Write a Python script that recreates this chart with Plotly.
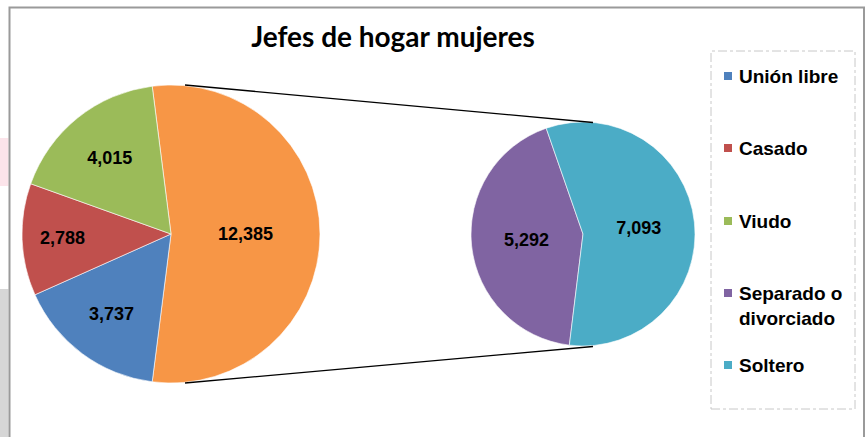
import plotly.graph_objects as go

# ---- data ----
categories = ["Unión libre", "Casado", "Viudo", "Separado o divorciado", "Soltero"]
values = [3737, 2788, 4015, 5292, 7093]
colors = ["#4F81BD", "#C0504D", "#9BBB59", "#8064A2", "#4BACC6"]
other_color = "#F79646"
title_text = "Jefes de hogar mujeres"
legend_labels = ["Unión libre", "Casado", "Viudo", "Separado o<br>divorciado", "Soltero"]

W, H = 868, 437
def px(x): return x / W
def py(y): return 1 - y / H

main_vals = values[:3]
sec_vals = values[3:]
other_total = sum(sec_vals)
total = sum(main_vals) + other_total

label_font = dict(family="Arial, Liberation Sans, sans-serif", size=18, color="black", weight="bold")

fig = go.Figure()

# primary pie: "other" slice first, centred at 3 o'clock
fig.add_trace(go.Pie(
    labels=["Otros"] + categories[:3],
    values=[other_total] + main_vals,
    marker=dict(colors=[other_color] + colors[:3], line=dict(color="white", width=0.6)),
    sort=False, direction="clockwise",
    rotation=90 - 180 * other_total / total,
    texttemplate="%{value:,}", textposition="inside",
    insidetextorientation="horizontal", textfont=label_font,
    domain=dict(x=[px(22), px(320)], y=[py(383), py(85)]),
    showlegend=False, hoverinfo="label+value",
))

# secondary pie
fig.add_trace(go.Pie(
    labels=categories[3:],
    values=sec_vals,
    marker=dict(colors=colors[3:], line=dict(color="white", width=0.6)),
    sort=False, direction="clockwise",
    rotation=187,
    texttemplate="%{value:,}", textposition="inside",
    insidetextorientation="horizontal", textfont=label_font,
    domain=dict(x=[px(471), px(695)], y=[py(346), py(122)]),
    showlegend=False, hoverinfo="label+value",
))

shapes = []
# spreadsheet background outside frame
shapes.append(dict(type="rect", xref="paper", yref="paper", x0=0, x1=px(8.5), y0=py(186), y1=py(138),
                   fillcolor="#FCE4EA", line=dict(width=0), layer="below"))
shapes.append(dict(type="rect", xref="paper", yref="paper", x0=0, x1=px(8.5), y0=0, y1=py(289),
                   fillcolor="#D6D6D6", line=dict(width=0), layer="below"))
# chart frame
shapes.append(dict(type="rect", xref="paper", yref="paper", x0=px(9.5), x1=px(864), y0=py(445), y1=py(7.5),
                   line=dict(color="#9A9A9A", width=2), fillcolor="rgba(0,0,0,0)"))
# connector lines
shapes.append(dict(type="line", xref="paper", yref="paper", x0=px(185), y0=py(85), x1=px(593), y1=py(122.5),
                   line=dict(color="black", width=1.3)))
shapes.append(dict(type="line", xref="paper", yref="paper", x0=px(185), y0=py(383), x1=px(593), y1=py(346.5),
                   line=dict(color="black", width=1.3)))
# legend box
shapes.append(dict(type="rect", xref="paper", yref="paper", x0=px(711), x1=px(855), y0=py(409), y1=py(51),
                   line=dict(color="#C8C8C8", width=1, dash="dashdot"), fillcolor="rgba(0,0,0,0)"))

annotations = []
legend_y = [76, 148, 221, 293, 365]
for lab, col, yy in zip(legend_labels, colors, legend_y):
    shapes.append(dict(type="rect", xref="paper", yref="paper", x0=px(724), x1=px(732), y0=py(yy + 4), y1=py(yy - 4),
                       fillcolor=col, line=dict(width=0)))
    annotations.append(dict(xref="paper", yref="paper", x=px(737), y=py(yy - 12), xanchor="left", yanchor="top",
                            text=lab, showarrow=False, align="left",
                            font=dict(family="Arial, Liberation Sans, sans-serif", size=19, color="black", weight="bold")))

fig.update_layout(
    width=W, height=H,
    margin=dict(l=0, r=0, t=0, b=0),
    paper_bgcolor="white", plot_bgcolor="white",
    title=dict(text=title_text, x=px(393), xanchor="center", y=py(37), yanchor="middle", yref="container",
               font=dict(family="Lato, Carlito, Calibri, sans-serif", size=28, color="black", weight="bold")),
    shapes=shapes, annotations=annotations,
)

fig.write_html("out.html", config={"displayModeBar": False},
               post_script="document.body.style.margin='0';")
